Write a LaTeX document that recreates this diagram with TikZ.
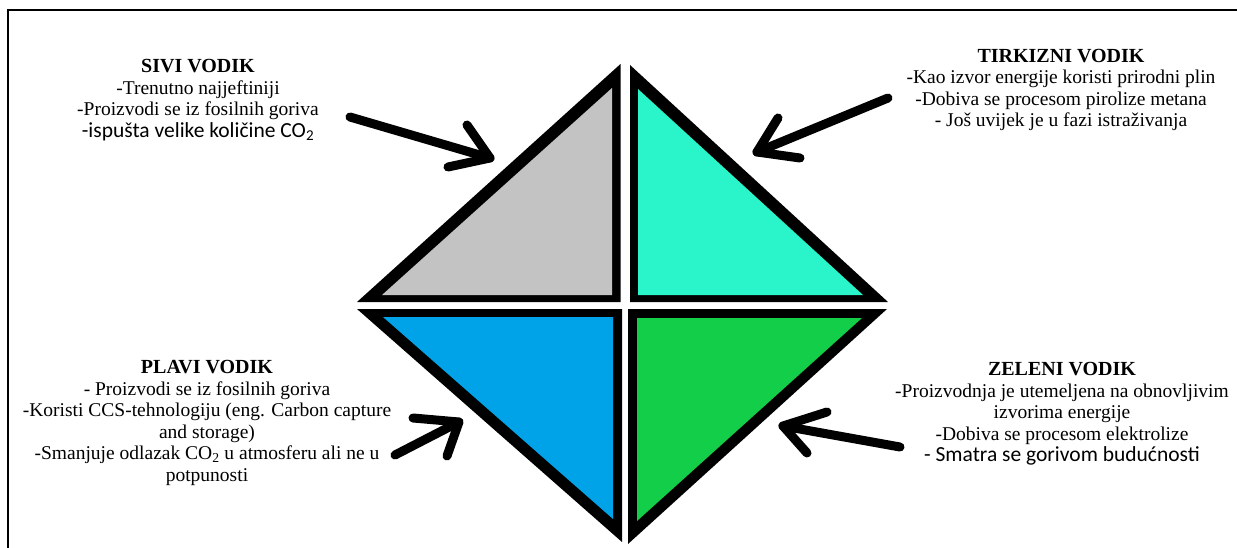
\documentclass[tikz,border=0pt]{standalone}
\usepackage{fontspec}
\setmainfont{Liberation Serif}
\newfontfamily\calibri{Carlito}
\definecolor{sivi}{RGB}{195,195,195}
\definecolor{tirk}{RGB}{42,245,202}
\definecolor{plavi}{RGB}{0,162,232}
\definecolor{zeleni}{RGB}{18,206,72}
\newcommand{\myhead}[1]{{\fontsize{20}{21.5}\selectfont\bfseries #1}}
\newcommand{\mycal}[1]{{\calibri\fontsize{21.5}{21.5}\selectfont #1}}
\begin{document}
\begin{tikzpicture}[x=1pt,y=-1pt,
  txt/.style={align=center, inner sep=0pt, font=\fontsize{19.5}{21.5}\selectfont},
  arr/.style={line width=9pt, line cap=round, line join=round},
  frame/.style={line width=2pt}]
\useasboundingbox (0,0) rectangle (1237,548);
% frame
\coordinate (fb) at (8,548);
\coordinate (fc) at (8,10);
\coordinate (fr) at (1237,10);
\draw[frame] (fb) -- (fc) -- (fr);
% gray triangle
\fill[black] (357,302) -- (620.5,302) -- (620.5,64) -- cycle;
\fill[sivi] (382,295) -- (612,295) -- (612,88) -- cycle;
% turquoise triangle
\fill[black] (630,302) -- (888,302) -- (630,65) -- cycle;
\fill[tirk] (638,295) -- (863,295) -- (638,89) -- cycle;
% blue triangle
\fill[black] (357,309) -- (622,309) -- (622,542) -- cycle;
\fill[plavi] (383,317) -- (613,317) -- (613,519) -- cycle;
% green triangle
\fill[black] (628,309) -- (887,309) -- (628,544) -- cycle;
\fill[zeleni] (637,318) -- (862,318) -- (637,521) -- cycle;
% texts
\node[txt] (tsivi) at (198,100) {\myhead{SIVI VODIK}\\-Trenutno najjeftiniji\\-Proizvodi se iz fosilnih goriva\\\mycal{-ispušta velike količine CO\textsubscript{2}}};
\node[txt] (ttirk) at (1061,90) {\myhead{TIRKIZNI VODIK}\\-Kao izvor energije koristi prirodni plin\\-Dobiva se procesom pirolize metana\\- Još uvijek je u fazi istraživanja};
\node[txt] (tplavi) at (207,423) {\myhead{PLAVI VODIK}\\- Proizvodi se iz fosilnih goriva\\-Koristi CCS-tehnologiju (eng. Carbon capture\\and storage)\\-Smanjuje odlazak CO\textsubscript{2} u atmosferu ali ne u\\potpunosti};
\node[txt] (tzel) at (1062,414) {\myhead{ZELENI VODIK}\\-Proizvodnja je utemeljena na obnovljivim\\izvorima energije\\-Dobiva se procesom elektrolize\\\mycal{- Smatra se gorivom budućnosti}};
% arrows
\coordinate (gt) at (350,117); \coordinate (gh) at (490,158);
\coordinate (ga1) at (467,125); \coordinate (ga2) at (448,167);
\draw[arr] (gt) -- (gh); \draw[arr] (ga1) -- (gh) -- (ga2);
\coordinate (tt) at (888,98); \coordinate (th) at (757,152);
\coordinate (ta1) at (778,118); \coordinate (ta2) at (800,158);
\draw[arr] (tt) -- (th); \draw[arr] (ta1) -- (th) -- (ta2);
\coordinate (zt) at (900,447); \coordinate (zh) at (783,426);
\coordinate (za1) at (827,412); \coordinate (za2) at (807,453);
\draw[arr] (zt) -- (zh); \draw[arr] (za1) -- (zh) -- (za2);
\coordinate (pt) at (395,455); \coordinate (ph) at (459,422);
\coordinate (pa1) at (413,418); \coordinate (pa2) at (447,456);
\draw[arr] (pt) -- (ph); \draw[arr] (pa1) -- (ph) -- (pa2);
\end{tikzpicture}
\end{document}
